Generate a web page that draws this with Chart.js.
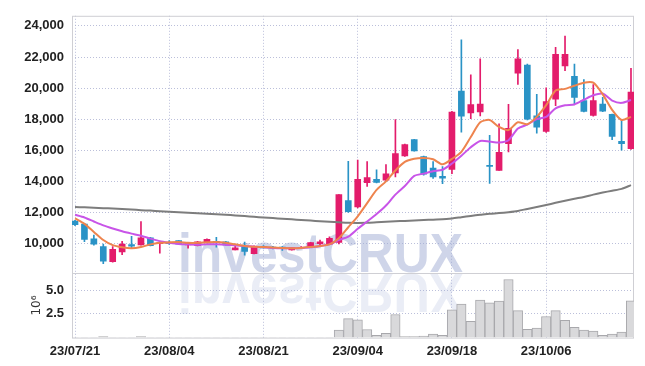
<!DOCTYPE html>
<html lang="en">
<head>
<meta charset="UTF-8">
<script src="https://cdn.jsdelivr.net/npm/chart.js"></script>
<title>investCRUX</title>
<style>
  html, body { margin: 0; padding: 0; background: #fff; }
</style>
</head>
<body>
<canvas id="grafico" width="645" height="366"></canvas>
<script>
// trading days
const dates = ['23/07/21','23/07/24','23/07/25','23/07/26','23/07/27','23/07/28','23/07/31','23/08/01','23/08/02','23/08/03',
  '23/08/04','23/08/07','23/08/08','23/08/09','23/08/10','23/08/11','23/08/14','23/08/16','23/08/17','23/08/18',
  '23/08/21','23/08/22','23/08/23','23/08/24','23/08/25','23/08/28','23/08/29','23/08/30','23/08/31','23/09/01',
  '23/09/04','23/09/05','23/09/06','23/09/07','23/09/08','23/09/11','23/09/12','23/09/13','23/09/14','23/09/15',
  '23/09/18','23/09/19','23/09/20','23/09/21','23/09/22','23/09/25','23/09/26','23/09/27','23/10/04','23/10/05',
  '23/10/06','23/10/10','23/10/11','23/10/12','23/10/13','23/10/16','23/10/17','23/10/18','23/10/19','23/10/20'];

const opens  = [11440,11250,10310,9810,8830,9460,9940,9920,10375,10000,
  10050,10190,9920,9860,10080,10150,10120,9600,9770,9350,
  9800,9780,9780,9600,9720,9750,10000,9960,10080,12770,
  12360,13920,14140,14080,14540,15640,16690,15600,14850,14330,
  14770,19810,18400,18460,15040,14710,16420,20960,21480,18210,
  17210,19290,21420,20750,19190,18250,18980,18310,16580,16100];
const highs  = [11500,11300,10540,9960,9800,10140,10460,11420,10400,10100,
  10200,10200,10050,10150,10300,10400,10150,9870,10100,9850,
  9870,9820,9800,9760,9800,10080,10230,10440,13150,15290,
  15375,15270,14750,15080,17980,16400,16700,15620,15270,14960,
  18500,23100,20850,21890,16960,17700,18960,22480,21550,19600,
  20020,22625,23350,21540,20540,20230,19400,18330,17940,21270];
const lows   = [11150,10120,9900,8710,8800,9290,9710,9900,9850,9380,
  9950,9950,9700,9850,10050,9770,9900,9600,9250,9330,
  9700,9650,9560,9580,9680,9740,9920,9940,9980,12000,
  12300,13670,13900,14050,14290,15600,15950,14400,14190,13860,
  14500,17170,18040,18210,13870,14700,15900,20230,17950,17100,
  17150,18875,21125,18980,18460,18200,18480,16690,16000,16050];
const closes = [11210,10270,9960,8870,9625,9960,9830,10375,9860,10060,
  10000,9960,10020,10120,10270,10080,9920,9730,9500,9810,
  9720,9700,9680,9750,9760,10060,10120,10330,13150,12060,
  14125,14250,13940,14480,15790,16375,15960,14460,14290,14210,
  18460,18200,18940,18980,14960,15875,17420,21875,18000,17480,
  19125,22170,22170,19400,18500,19190,18520,16900,16420,19750];

// moving averages
const maShort = [11620,11270,10750,10230,9900,9760,9700,9780,9950,10050,
  10080,10100,10050,10050,10080,10100,10050,9950,9850,9800,
  9780,9750,9720,9700,9720,9780,9850,9950,10350,11050,
  11750,12600,13450,14000,14700,15250,15450,15500,15420,15100,
  15450,15900,16850,17800,17950,17500,17300,17800,17680,18150,
  18900,19850,19950,20150,20350,20350,19600,18600,17950,18150];
const maMid = [11850,11680,11420,11170,10970,10790,10640,10500,10320,10150,
  10050,9970,9950,9930,9950,9950,9930,9880,9850,9800,
  9760,9720,9700,9700,9720,9760,9850,9950,10230,10450,
  10950,11420,11900,12450,13150,13700,14350,14500,14650,14750,
  15150,15650,16200,16600,16560,16500,16650,17400,17650,18000,
  18150,18700,18900,18950,19250,19540,19650,19200,19050,19230];
const maLong = [12350,12330,12300,12280,12250,12220,12190,12150,12120,12080,
  12040,12010,11980,11950,11920,11880,11850,11810,11770,11720,
  11680,11640,11600,11560,11520,11480,11440,11400,11370,11340,
  11330,11340,11370,11400,11430,11460,11490,11510,11540,11560,
  11620,11700,11780,11850,11920,11960,12020,12100,12230,12350,
  12480,12620,12750,12880,13000,13150,13280,13400,13520,13760];

// volume, millions
const volumes = [0.01,0.01,0.01,0.12,0.01,0.01,0.01,0.12,0.01,0.01,
  0.01,0.01,0.01,0.01,0.01,0.01,0.01,0.01,0.01,0.01,
  0.01,0.01,0.01,0.01,0.01,0.01,0.01,0.01,0.78,1.99,
  1.88,0.85,0.24,0.44,2.43,0.12,0.12,0.16,0.37,0.24,
  2.91,3.53,1.71,3.94,3.66,3.84,6.1,2.84,0.88,0.99,
  2.22,2.84,1.81,1.09,0.78,0.68,0.24,0.37,0.58,3.87];

const priceTicks = [10000,12000,14000,16000,18000,20000,22000,24000];
const volTicks = [2.5, 5.0];
const dateTicks = [0,10,20,30,40,50];

const UP = '#e31c6b', DOWN = '#2a93c6';
const candleColors = opens.map((o, i) => closes[i] >= o ? UP : DOWN);
const pts = arr => arr.map((v, i) => ({x: i, y: v}));

const tickFont = { family: "'Liberation Sans', Arial, sans-serif", size: 13, weight: 'bold' };
const gridCol = 'rgba(175,180,212,0.85)';

const marca = {
  id: 'marca',
  beforeDatasetsDraw(chart) {
    const ctx = chart.ctx;
    const a = chart.chartArea;
    const sep = chart.scales.yv.top;
    ctx.save();
    ctx.font = 'bold 56px "Liberation Sans", sans-serif';
    const w = ctx.measureText('investCRUX').width;
    ctx.translate(178, sep);
    ctx.scale(285 / w, 1);
    ctx.fillStyle = 'rgba(160,172,212,0.5)';
    ctx.fillText('investCRUX', 0, -1);
    ctx.scale(1, -1);
    ctx.fillStyle = 'rgba(160,172,212,0.22)';
    ctx.fillText('investCRUX', 0, -1);
    ctx.restore();

    ctx.save();
    ctx.strokeStyle = '#cfcfd4';
    ctx.lineWidth = 1;
    ctx.strokeRect(a.left + 0.5, a.top + 0.5, a.right - a.left - 1, a.bottom - a.top);
    ctx.beginPath();
    ctx.moveTo(a.left, Math.round(sep) + 0.5);
    ctx.lineTo(a.right, Math.round(sep) + 0.5);
    ctx.stroke();
    ctx.restore();
  }
};

new Chart(document.getElementById('grafico'), {
  data: {
    datasets: [
      { type: 'line', label: 'MA short', data: pts(maShort), yAxisID: 'y', borderColor: 'rgb(238,132,78)', borderWidth: 2, pointRadius: 0, tension: 0.25, order: 0 },
      { type: 'line', label: 'MA mid', data: pts(maMid), yAxisID: 'y', borderColor: 'rgb(200,84,232)', borderWidth: 2, pointRadius: 0, tension: 0.25, order: 0 },
      { type: 'line', label: 'MA long', data: pts(maLong), yAxisID: 'y', borderColor: 'rgb(125,125,125)', borderWidth: 2, pointRadius: 0, tension: 0.25, order: 0 },
      { type: 'bar', label: 'body', data: opens.map((o, i) => ({x: i, y: [o, closes[i]]})), yAxisID: 'y', backgroundColor: candleColors, barThickness: 6, grouped: false, order: 1 },
      { type: 'bar', label: 'wick', data: lows.map((l, i) => ({x: i, y: [l, highs[i]]})), yAxisID: 'y', backgroundColor: candleColors, barThickness: 1, grouped: false, order: 2 },
      { type: 'bar', label: 'volume', data: pts(volumes), yAxisID: 'yv', backgroundColor: '#d9d9db', borderColor: '#a8a8ac', borderWidth: 1, barPercentage: 1, categoryPercentage: 1, grouped: false, order: 3 }
    ]
  },
  options: {
    responsive: false,
    animation: false,
    layout: { padding: { top: 9, right: 11, left: 0, bottom: 0 } },
    plugins: { legend: { display: false }, tooltip: { enabled: false } },
    scales: {
      x: {
        type: 'linear', position: 'bottom', min: -0.32, max: 59.32, offset: false,
        afterBuildTicks: s => { s.ticks = dateTicks.map(v => ({value: v})); },
        afterFit: s => { s.height = 28.4; },
        ticks: { callback: v => dates[v], color: '#222', font: tickFont, padding: 6, maxRotation: 0 },
        grid: { color: gridCol, drawTicks: false, offset: false },
        border: { display: false, dash: [1, 2] }
      },
      yv: {
        position: 'left', stack: 'panes', stackWeight: 65.6, min: 0, max: 6.75,
        afterBuildTicks: s => { s.ticks = volTicks.map(v => ({value: v})); },
        afterFit: s => { s.width = 72; },
        ticks: { callback: v => v.toFixed(1), color: '#222', font: tickFont, padding: 8 },
        title: { display: true, text: '10⁶', color: '#333', font: { family: "'DejaVu Sans', sans-serif", size: 12 }, padding: { top: 30, bottom: 0 } },
        grid: { color: gridCol, drawTicks: false },
        border: { display: false, dash: [1, 2] }
      },
      y: {
        position: 'left', stack: 'panes', stackWeight: 263, min: 8085, max: 24650,
        afterBuildTicks: s => { s.ticks = priceTicks.map(v => ({value: v})); },
        afterFit: s => { s.width = 72; },
        ticks: { callback: v => v.toLocaleString('en-US'), color: '#222', font: tickFont, padding: 8 },
        grid: { color: gridCol, drawTicks: false },
        border: { display: false, dash: [1, 2] }
      }
    }
  },
  plugins: [marca]
});
</script>
</body>
</html>
